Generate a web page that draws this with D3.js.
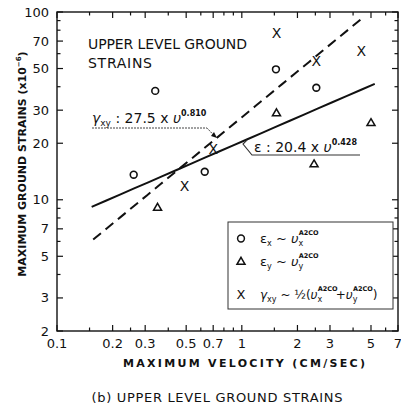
<!DOCTYPE html>
<html>
<head>
<meta charset="utf-8">
<script src="https://cdn.jsdelivr.net/npm/d3@7"></script>
<style>
  html, body { margin: 0; padding: 0; background: #fff; }
  svg { display: block; }
</style>
</head>
<body>
<div id="chart"></div>
<script>
// puntos
const exVel = [0.26, 0.34, 0.63, 1.53, 2.53];
const exStrain = [13.6, 38, 14.1, 49.5, 39.5];

const eyVel = [0.35, 1.54, 2.46, 5.0];
const eyStrain = [9.1, 29, 15.5, 25.7];

const gxyVel = [0.49, 0.70, 1.54, 2.53, 4.43];
const gxyStrain = [11.9, 18.6, 77, 55, 62];

// ajustes: strain = a * v^b
const epsFit = { a: 20.4, b: 0.428, from: 0.154, to: 5.24 };
const gamFit = { a: 27.5, b: 0.810, from: 0.157, to: 4.53 };

const xTickLabels = [0.1, 0.2, 0.3, 0.5, 0.7, 1, 2, 3, 5, 7];
const xMinorTicks = [0.15, 0.25, 0.4, 0.6, 0.8, 0.9, 1.5, 2.5, 4, 6];
const yTickLabels = [2, 3, 5, 7, 10, 20, 30, 50, 70, 100];
const yMinorTicks = [4, 6, 8, 9, 40, 60, 80, 90];

const width = 401, height = 408;
const font = "'DejaVu Sans', sans-serif";

const x = d3.scaleLog().domain([0.1, 7]).range([57, 398]);
const y = d3.scaleLog().domain([2, 100]).range([331, 12]);

const svg = d3.create("svg")
  .attr("width", width)
  .attr("height", height)
  .attr("viewBox", `0 0 ${width} ${height}`)
  .style("background", "#fff")
  .style("font-family", font);

// marco
const [x0, x1] = x.range();
const [y0, y1] = y.range();
svg.append("rect")
  .attr("x", x0).attr("y", y1)
  .attr("width", x1 - x0).attr("height", y0 - y1)
  .attr("fill", "none")
  .attr("stroke", "#111")
  .attr("stroke-width", 1.4);

// ticks hacia adentro en los cuatro lados
const tickG = svg.append("g").attr("stroke", "#111").attr("stroke-width", 1.2);
const xAll = xTickLabels.map(v => [v, 6]).concat(xMinorTicks.map(v => [v, 3.5]));
const yAll = yTickLabels.map(v => [v, 6]).concat(yMinorTicks.map(v => [v, 3.5]));

tickG.selectAll(".xb").data(xAll).join("line")
  .attr("x1", d => x(d[0])).attr("x2", d => x(d[0]))
  .attr("y1", y0).attr("y2", d => y0 - d[1]);
tickG.selectAll(".xt").data(xAll).join("line")
  .attr("x1", d => x(d[0])).attr("x2", d => x(d[0]))
  .attr("y1", y1).attr("y2", d => y1 + d[1]);
tickG.selectAll(".yl").data(yAll).join("line")
  .attr("y1", d => y(d[0])).attr("y2", d => y(d[0]))
  .attr("x1", x0).attr("x2", d => x0 + d[1]);
tickG.selectAll(".yr").data(yAll).join("line")
  .attr("y1", d => y(d[0])).attr("y2", d => y(d[0]))
  .attr("x1", x1).attr("x2", d => x1 - d[1]);

// etiquetas de ticks
svg.append("g")
  .selectAll("text")
  .data(xTickLabels)
  .join("text")
  .attr("x", d => x(d))
  .attr("y", 348)
  .attr("text-anchor", "middle")
  .attr("font-size", 13)
  .attr("fill", "#111")
  .text(d => d);

svg.append("g")
  .selectAll("text")
  .data(yTickLabels)
  .join("text")
  .attr("x", 49)
  .attr("y", d => y(d) + 4.5)
  .attr("text-anchor", "end")
  .attr("font-size", 13)
  .attr("fill", "#111")
  .text(d => d);

// rectas de ajuste
const fitLine = f => {
  const pts = d3.range(0, 21).map(i => {
    const v = f.from * Math.pow(f.to / f.from, i / 20);
    return [v, f.a * Math.pow(v, f.b)];
  });
  return d3.line().x(d => x(d[0])).y(d => y(d[1]))(pts);
};

svg.append("path")
  .attr("d", fitLine(epsFit))
  .attr("fill", "none")
  .attr("stroke", "#111")
  .attr("stroke-width", 2);

svg.append("path")
  .attr("d", fitLine(gamFit))
  .attr("fill", "none")
  .attr("stroke", "#111")
  .attr("stroke-width", 2)
  .attr("stroke-dasharray", "10,6");

// marcadores
const zip = (a, b) => a.map((v, i) => [v, b[i]]);

svg.append("g")
  .selectAll("circle")
  .data(zip(exVel, exStrain))
  .join("circle")
  .attr("cx", d => x(d[0]))
  .attr("cy", d => y(d[1]))
  .attr("r", 3.4)
  .attr("fill", "none")
  .attr("stroke", "#111")
  .attr("stroke-width", 1.6);

const tri = d3.symbol().type(d3.symbolTriangle).size(28);
svg.append("g")
  .selectAll("path")
  .data(zip(eyVel, eyStrain))
  .join("path")
  .attr("d", tri)
  .attr("transform", d => `translate(${x(d[0])},${y(d[1]) + 0.5})`)
  .attr("fill", "none")
  .attr("stroke", "#111")
  .attr("stroke-width", 1.5);

svg.append("g")
  .selectAll("text")
  .data(zip(gxyVel, gxyStrain))
  .join("text")
  .attr("x", d => x(d[0]))
  .attr("y", d => y(d[1]) + 5)
  .attr("text-anchor", "middle")
  .attr("font-size", 14)
  .attr("fill", "#111")
  .text("X");

// titulo interno
const title = svg.append("text")
  .attr("x", 88)
  .attr("font-size", 14)
  .attr("fill", "#111");
title.append("tspan").attr("x", 88).attr("y", 49)
  .attr("textLength", 159).attr("lengthAdjust", "spacing")
  .text("UPPER LEVEL GROUND");
title.append("tspan").attr("x", 88).attr("y", 68)
  .attr("textLength", 64).attr("lengthAdjust", "spacing")
  .text("STRAINS");

// ecuacion gamma
const gEq = svg.append("text")
  .attr("x", 92).attr("y", 123)
  .attr("font-size", 14)
  .attr("fill", "#111");
gEq.append("tspan").attr("font-style", "italic").text("γ");
gEq.append("tspan").attr("font-size", 9).attr("dy", 3).text("xy");
gEq.append("tspan").attr("dy", -3).text(" : 27.5 x ");
gEq.append("tspan").attr("font-style", "italic").text("υ");
gEq.append("tspan").attr("font-size", 8).attr("font-weight", "bold").attr("dy", -7).text("0.810");

svg.append("path")
  .attr("d", `M92,128 H207 L${x(0.73) - 2},${y(gamFit.a * Math.pow(0.73, gamFit.b)) - 2}`)
  .attr("fill", "none")
  .attr("stroke", "#444")
  .attr("stroke-width", 1)
  .attr("stroke-dasharray", "2,1");
svg.append("path")
  .attr("d", "M211,136 L217,138 L214,132 Z")
  .attr("fill", "#111");

// ecuacion epsilon
const eEq = svg.append("text")
  .attr("x", 254).attr("y", 152)
  .attr("font-size", 14)
  .attr("fill", "#111");
eEq.append("tspan").text("ε : 20.4 x ");
eEq.append("tspan").attr("font-style", "italic").text("υ");
eEq.append("tspan").attr("font-size", 8).attr("font-weight", "bold").attr("dy", -7).text("0.428");

svg.append("path")
  .attr("d", "M247,140 L243,144 L252,155 H360")
  .attr("fill", "none")
  .attr("stroke", "#333")
  .attr("stroke-width", 1.1);

// leyenda
svg.append("rect")
  .attr("x", 228).attr("y", 222)
  .attr("width", 165).attr("height", 87)
  .attr("fill", "#fff")
  .attr("stroke", "#333")
  .attr("stroke-width", 1);

const legX = 241, legT = 260;
svg.append("circle")
  .attr("cx", legX).attr("cy", 238.5).attr("r", 3.4)
  .attr("fill", "none").attr("stroke", "#111").attr("stroke-width", 1.5);
svg.append("path")
  .attr("d", tri)
  .attr("transform", `translate(${legX},262)`)
  .attr("fill", "none").attr("stroke", "#111").attr("stroke-width", 1.5);
svg.append("text")
  .attr("x", legX).attr("y", 299)
  .attr("text-anchor", "middle")
  .attr("font-size", 13).attr("fill", "#111")
  .text("X");

// υ con subindice y superindice A2CO apilados; deja el texto 8px arriba
function veloc(t, sub) {
  t.append("tspan").attr("font-style", "italic").text("υ");
  t.append("tspan").attr("font-size", 8).attr("dy", 3).text(sub);
  t.append("tspan").attr("font-size", 6.5).attr("font-weight", "bold")
    .attr("dx", -4.5).attr("dy", -11).text("A2CO");
}

const l1 = svg.append("text").attr("x", legT).attr("y", 243)
  .attr("font-size", 13).attr("fill", "#111");
l1.append("tspan").text("ε");
l1.append("tspan").attr("font-size", 8).attr("dy", 3).text("x");
l1.append("tspan").attr("dy", -3).text(" ~ ");
veloc(l1, "x");

const l2 = svg.append("text").attr("x", legT).attr("y", 266)
  .attr("font-size", 13).attr("fill", "#111");
l2.append("tspan").text("ε");
l2.append("tspan").attr("font-size", 8).attr("dy", 3).text("y");
l2.append("tspan").attr("dy", -3).text(" ~ ");
veloc(l2, "y");

const l3 = svg.append("text").attr("x", legT).attr("y", 299)
  .attr("font-size", 12).attr("fill", "#111");
l3.append("tspan").attr("font-style", "italic").text("γ");
l3.append("tspan").attr("font-size", 8).attr("dy", 3).text("xy");
l3.append("tspan").attr("dy", -3).text(" ~ ½(");
veloc(l3, "x");
l3.append("tspan").attr("dy", 8).attr("dx", -2).text("+");
veloc(l3, "y");
l3.append("tspan").attr("dy", 8).text(")");

// titulos de ejes
svg.append("text")
  .attr("x", 244).attr("y", 367)
  .attr("text-anchor", "middle")
  .attr("font-size", 11).attr("font-weight", "bold")
  .attr("fill", "#111")
  .attr("textLength", 242).attr("lengthAdjust", "spacing")
  .text("MAXIMUM VELOCITY  (CM/SEC)");

const yl = svg.append("text")
  .attr("transform", "translate(26,164) rotate(-90)")
  .attr("text-anchor", "middle")
  .attr("font-size", 11).attr("font-weight", "bold")
  .attr("fill", "#111");
yl.append("tspan").text("MAXIMUM GROUND STRAINS (x10");
yl.append("tspan").attr("font-size", 7).attr("dy", -5).text("−6");
yl.append("tspan").attr("dy", 5).text(")");

svg.append("text")
  .attr("x", 217).attr("y", 402)
  .attr("text-anchor", "middle")
  .attr("font-size", 13)
  .attr("fill", "#111")
  .attr("textLength", 251).attr("lengthAdjust", "spacing")
  .text("(b)  UPPER LEVEL GROUND STRAINS");

document.getElementById("chart").append(svg.node());
</script>
</body>
</html>
